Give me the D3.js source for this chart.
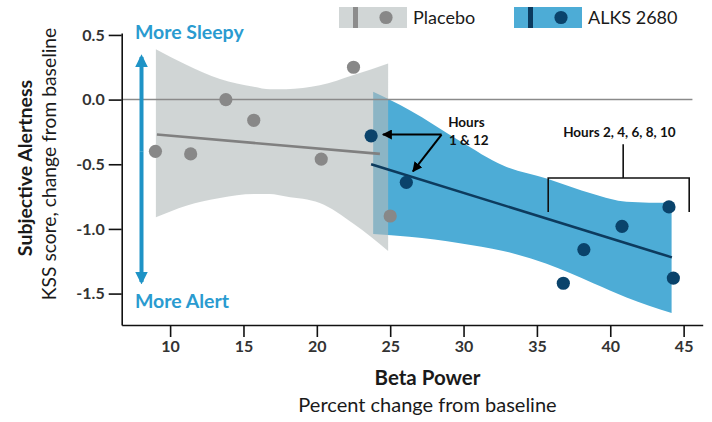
<!DOCTYPE html>
<html>
<head>
<meta charset="utf-8">
<script src="https://cdn.jsdelivr.net/npm/d3@7"></script>
<style>
  html, body { margin: 0; padding: 0; background: #fff; }
  svg { display: block; font-family: Lato, "Noto Sans", sans-serif; }
</style>
</head>
<body>
<svg id="chart" width="712" height="422"></svg>
<script>
// Beta power vs. subjective alertness (KSS), per study arm
const xTicks = [10, 15, 20, 25, 30, 35, 40, 45];
const yTicks = [0.5, 0.0, -0.5, -1.0, -1.5];

const placeboX = [9.0, 11.4, 13.8, 15.7, 20.3, 22.5, 25.0];
const placeboY = [-0.40, -0.42, 0.00, -0.16, -0.46, 0.25, -0.90];
const alksX = [23.7, 26.1, 36.8, 38.2, 40.8, 44.0, 44.3];
const alksY = [-0.28, -0.64, -1.42, -1.16, -0.98, -0.83, -1.38];

// regression lines (start / end)
const placeboFitX = [9.1, 24.3];
const placeboFitY = [-0.27, -0.42];
const alksFitX = [23.7, 44.2];
const alksFitY = [-0.50, -1.22];

// confidence bands
const placeboBandX = [9.03, 11.1, 13.4, 15.7, 16.8, 17.9, 20.2, 22.5, 24.86];
const placeboBandHi = [0.39, 0.27, 0.16, 0.10, 0.08, 0.08, 0.11, 0.19, 0.28];
const placeboBandLo = [-0.91, -0.82, -0.76, -0.73, -0.73, -0.75, -0.80, -0.96, -1.17];
const alksBandX = [23.84, 26.3, 29.75, 32.7, 35.66, 38.84, 41.11, 44.18];
const alksBandHi = [0.06, -0.08, -0.32, -0.51, -0.61, -0.73, -0.79, -0.80];
const alksBandLo = [-1.04, -1.06, -1.11, -1.17, -1.27, -1.42, -1.53, -1.65];

const seriesNames = ["Placebo", "ALKS 2680"];

const C = {
  placeboBand: "#b3bbbb", placeboPt: "#888888", placeboLine: "#808080",
  alksBand: "#4dacd6", alksPt: "#0a436b", alksLine: "#0d3b5e",
  accent: "#1e93c6", accentText: "#2a9bd0", ink: "#1a1a1a", tick: "#333"
};

const svg = d3.select("#chart");
const x = d3.scaleLinear().domain([6.7, 46.3]).range([121.7, 702.7]);
const y = d3.scaleLinear().domain([-1.743, 0.515]).range([325, 33]);

const defs = svg.append("defs");
defs.append("marker").attr("id", "blk").attr("viewBox", "0 0 10 10")
  .attr("refX", 9).attr("refY", 5).attr("markerWidth", 5).attr("markerHeight", 5)
  .attr("markerUnits", "strokeWidth").attr("orient", "auto")
  .append("path").attr("d", "M0,0L10,5L0,10z").attr("fill", "#000");
defs.append("marker").attr("id", "blu").attr("viewBox", "0 0 10 10")
  .attr("refX", 8).attr("refY", 5).attr("markerWidth", 3.2).attr("markerHeight", 3.2)
  .attr("markerUnits", "strokeWidth").attr("orient", "auto")
  .append("path").attr("d", "M0,0L10,5L0,10z").attr("fill", C.accent);

// bands
const band = (xs, lo, hi) => d3.area()
  .x(i => x(xs[i])).y0(i => y(lo[i])).y1(i => y(hi[i]))
  .curve(d3.curveMonotoneX)(d3.range(xs.length));

svg.append("path").attr("d", band(alksBandX, alksBandLo, alksBandHi))
  .attr("fill", C.alksBand);
svg.append("path").attr("d", band(placeboBandX, placeboBandLo, placeboBandHi))
  .attr("fill", C.placeboBand).attr("fill-opacity", 0.62);

// zero reference line
svg.append("line")
  .attr("x1", x(6.7)).attr("x2", x(45.6)).attr("y1", y(0)).attr("y2", y(0))
  .attr("stroke", "#8a8a8a").attr("stroke-width", 1.5);

// fit lines
const seg = (xs, ys) => d3.line().x(i => x(xs[i])).y(i => y(ys[i]))(d3.range(xs.length));
svg.append("path").attr("d", seg(placeboFitX, placeboFitY))
  .attr("stroke", C.placeboLine).attr("stroke-width", 2.6).attr("fill", "none");
svg.append("path").attr("d", seg(alksFitX, alksFitY))
  .attr("stroke", C.alksLine).attr("stroke-width", 2.6).attr("fill", "none");

// points
svg.append("g").selectAll("circle").data(d3.range(placeboX.length)).join("circle")
  .attr("cx", i => x(placeboX[i])).attr("cy", i => y(placeboY[i])).attr("r", 6.6)
  .attr("fill", C.placeboPt);
svg.append("g").selectAll("circle").data(d3.range(alksX.length)).join("circle")
  .attr("cx", i => x(alksX[i])).attr("cy", i => y(alksY[i])).attr("r", 6.6)
  .attr("fill", C.alksPt);

// axes
const yAxis = svg.append("g").attr("transform", `translate(${x(6.7)},0)`)
  .call(d3.axisLeft(y).tickValues(yTicks).tickSize(13).tickSizeOuter(0).tickPadding(4)
    .tickFormat(d => d.toFixed(1)));
const xAxis = svg.append("g").attr("transform", `translate(0,${y(-1.743)})`)
  .call(d3.axisBottom(x).tickValues(xTicks).tickSize(12).tickSizeOuter(0).tickPadding(4)
    .tickFormat(d3.format("d")));
[yAxis, xAxis].forEach(g => {
  g.selectAll("path, line").attr("stroke", "#111").attr("stroke-width", 1.6);
  g.selectAll("text").attr("font-family", "Lato, sans-serif").attr("font-size", 16)
    .attr("font-weight", 700).attr("fill", C.tick);
});

// axis titles
svg.append("text").attr("transform", "translate(32,168) rotate(-90)")
  .attr("text-anchor", "middle").attr("font-size", 19.5).attr("font-weight", 700)
  .attr("fill", C.ink).text("Subjective Alertness");
svg.append("text").attr("transform", "translate(56,164) rotate(-90)")
  .attr("text-anchor", "middle").attr("font-size", 19.3).attr("fill", C.ink)
  .text("KSS score, change from baseline");
svg.append("text").attr("x", 427.5).attr("y", 385).attr("text-anchor", "middle")
  .attr("font-size", 20.5).attr("font-weight", 700).attr("fill", C.ink).text("Beta Power");
svg.append("text").attr("x", 427.5).attr("y", 412).attr("text-anchor", "middle")
  .attr("font-size", 20).attr("fill", C.ink).text("Percent change from baseline");

// direction cue
svg.append("line").attr("x1", x(8.05)).attr("x2", x(8.05))
  .attr("y1", y(-0.40)).attr("y2", y(0.33))
  .attr("stroke", C.accent).attr("stroke-width", 4).attr("marker-end", "url(#blu)");
svg.append("line").attr("x1", x(8.05)).attr("x2", x(8.05))
  .attr("y1", y(-0.40)).attr("y2", y(-1.41))
  .attr("stroke", C.accent).attr("stroke-width", 4).attr("marker-end", "url(#blu)");
svg.append("text").attr("x", x(7.6)).attr("y", y(0.47))
  .attr("font-size", 19.5).attr("font-weight", 700).attr("fill", C.accentText).text("More Sleepy");
svg.append("text").attr("x", x(7.6)).attr("y", y(-1.61))
  .attr("font-size", 19.5).attr("font-weight", 700).attr("fill", C.accentText).text("More Alert");

// hour annotations
const hx = 28.5, hy = -0.27;
svg.append("line").attr("x1", x(hx)).attr("y1", y(hy)).attr("x2", x(24.5)).attr("y2", y(hy))
  .attr("stroke", "#000").attr("stroke-width", 2).attr("marker-end", "url(#blk)");
svg.append("line").attr("x1", x(hx)).attr("y1", y(hy)).attr("x2", x(26.55)).attr("y2", y(-0.555))
  .attr("stroke", "#000").attr("stroke-width", 2).attr("marker-end", "url(#blk)");
const hrs = svg.append("text").attr("font-size", 13.5).attr("font-weight", 700).attr("fill", "#111");
hrs.append("tspan").attr("x", x(28.95)).attr("y", y(-0.214)).text("Hours");
hrs.append("tspan").attr("x", x(29.0)).attr("y", y(-0.353)).text("1 & 12");

svg.append("text").attr("x", x(36.79)).attr("y", y(-0.289))
  .attr("font-size", 13.5).attr("font-weight", 700).attr("fill", "#111").text("Hours 2, 4, 6, 8, 10");
svg.append("path")
  .attr("d", `M${x(40.88)},${y(-0.346)}V${y(-0.606)}M${x(35.77)},${y(-0.869)}V${y(-0.606)}H${x(45.38)}V${y(-0.869)}`)
  .attr("stroke", "#111").attr("stroke-width", 1.6).attr("fill", "none");

// legend
const legend = svg.append("g");
const legendItems = [
  { name: seriesNames[0], band: "#d1d6d6", bar: "#8c8c8c", dot: C.placeboPt, x0: 339 },
  { name: seriesNames[1], band: C.alksBand, bar: "#0b3a5e", dot: C.alksPt, x0: 514 }
];
legendItems.forEach(d => {
  const g = legend.append("g").attr("transform", `translate(${d.x0},7)`);
  g.append("rect").attr("width", 68).attr("height", 21).attr("fill", d.band);
  g.append("rect").attr("x", 14).attr("width", 5).attr("height", 21).attr("fill", d.bar);
  g.append("circle").attr("cx", 47).attr("cy", 10.5).attr("r", 6.6).attr("fill", d.dot);
  g.append("text").attr("x", 74).attr("y", 16.5).attr("font-size", 18)
    .attr("fill", C.ink).text(d.name);
});
</script>
</body>
</html>
